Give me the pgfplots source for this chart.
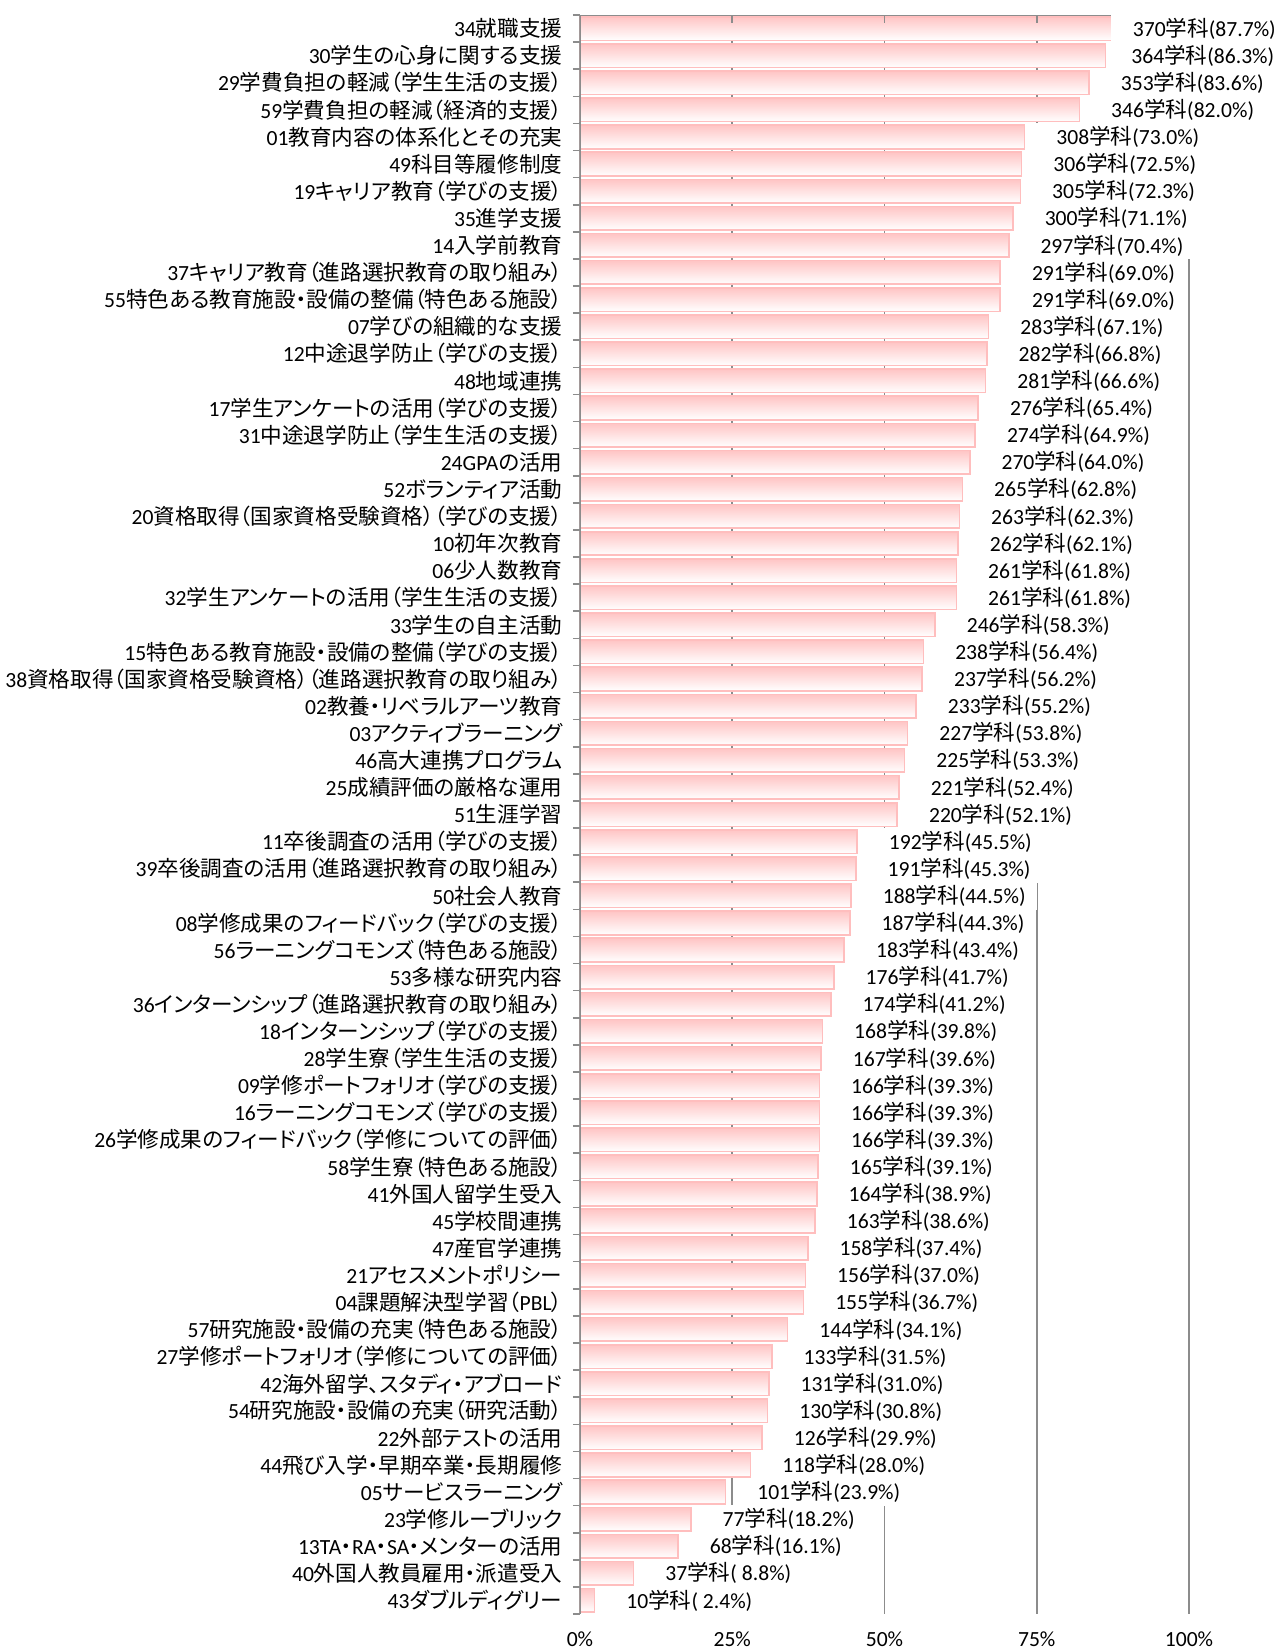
\documentclass[border=0pt]{standalone}
\usepackage{fontspec}
\usepackage{pgfplots}
\pgfplotsset{compat=1.18}
\setmainfont{Carlito}
\newfontfamily\lat{Carlito}
\newfontfamily\cjk[RawFeature=+palt]{Noto Sans CJK JP}
% switch to the CJK font for Japanese characters automatically
\XeTeXinterchartokenstate=1
\newXeTeXintercharclass\CJKcls
\newcount\cc
\def\setcls#1#2{\cc=#1\relax\loop\XeTeXcharclass\cc=\CJKcls\relax\ifnum\cc<#2\advance\cc by 1\repeat}
\setcls{"3000}{"30FF}
\setcls{"4E00}{"9FFF}
\setcls{"FF00}{"FFEF}
\XeTeXinterchartoks 0 \CJKcls = {\cjk}
\XeTeXinterchartoks 4095 \CJKcls = {\cjk}
\XeTeXinterchartoks \CJKcls 0 = {\lat}
\XeTeXinterchartoks \CJKcls 4095 = {\lat}

\definecolor{barpink}{RGB}{255,197,197}
\definecolor{barline}{RGB}{255,190,190}
\definecolor{axgray}{RGB}{140,140,140}

\pgfplotsset{barstyle/.style={draw=barline, line width=0.8pt,
    top color=barpink, bottom color=white}}
% one bar per plot, so that each bar gets its own gradient
\newcommand\onebar[4][]{\addplot[barstyle,#1] coordinates {(#2,#3) [#4]};}

\begin{document}
\begin{tikzpicture}
\begin{axis}[
    scale only axis,
    width=304.5pt, height=799.5pt,
    xmin=0, xmax=100,
    ymin=-0.5, ymax=58.5,
    y dir=reverse,
    xbar, bar width=0.87, bar shift=0pt,
    axis line style={draw=none},
    xtick={0,25,50,75,100},
    xticklabels={0\%,25\%,50\%,75\%,100\%},
    xticklabel style={font=\fontsize{10.8}{12}\selectfont, yshift=-1pt},
    major x tick style={draw=none},
    xmajorgrids,
    major x grid style={axgray, line width=0.8pt},
    ytick={0,...,58},
    major y tick style={draw=none},
    minor ytick={-0.5,0.5,...,58.5},
    minor y tick style={axgray, line width=0.8pt},
    minor tick length=3.5pt,
    tick align=outside,
    ytick pos=left,
    yticklabel style={font=\fontsize{10.8}{12}\selectfont, xshift=-1pt},
    yticklabels={
    {34就職支援},
    {30学生の心身に関する支援},
    {29学費負担の軽減（学生生活の支援）},
    {59学費負担の軽減（経済的支援）},
    {01教育内容の体系化とその充実},
    {49科目等履修制度},
    {19キャリア教育（学びの支援）},
    {35進学支援},
    {14入学前教育},
    {37キャリア教育（進路選択教育の取り組み）},
    {55特色ある教育施設・設備の整備（特色ある施設）},
    {07学びの組織的な支援},
    {12中途退学防止（学びの支援）},
    {48地域連携},
    {17学生アンケートの活用（学びの支援）},
    {31中途退学防止（学生生活の支援）},
    {24GPAの活用},
    {52ボランティア活動},
    {20資格取得（国家資格受験資格）（学びの支援）},
    {10初年次教育},
    {06少人数教育},
    {32学生アンケートの活用（学生生活の支援）},
    {33学生の自主活動},
    {15特色ある教育施設・設備の整備（学びの支援）},
    {38資格取得（国家資格受験資格）（進路選択教育の取り組み）},
    {02教養・リベラルアーツ教育},
    {03アクティブラーニング},
    {46高大連携プログラム},
    {25成績評価の厳格な運用},
    {51生涯学習},
    {11卒後調査の活用（学びの支援）},
    {39卒後調査の活用（進路選択教育の取り組み）},
    {50社会人教育},
    {08学修成果のフィードバック（学びの支援）},
    {56ラーニングコモンズ（特色ある施設）},
    {53多様な研究内容},
    {36インターンシップ（進路選択教育の取り組み）},
    {18インターンシップ（学びの支援）},
    {28学生寮（学生生活の支援）},
    {09学修ポートフォリオ（学びの支援）},
    {16ラーニングコモンズ（学びの支援）},
    {26学修成果のフィードバック（学修についての評価）},
    {58学生寮（特色ある施設）},
    {41外国人留学生受入},
    {45学校間連携},
    {47産官学連携},
    {21アセスメントポリシー},
    {04課題解決型学習（PBL）},
    {57研究施設・設備の充実（特色ある施設）},
    {27学修ポートフォリオ（学修についての評価）},
    {42海外留学、スタディ・アブロード},
    {54研究施設・設備の充実（研究活動）},
    {22外部テストの活用},
    {44飛び入学・早期卒業・長期履修},
    {05サービスラーニング},
    {23学修ルーブリック},
    {13TA・RA・SA・メンターの活用},
    {40外国人教員雇用・派遣受入},
    {43ダブルディグリー}
    },
    point meta=explicit symbolic,
    nodes near coords={\hspace*{5.5pt}\pgfplotspointmeta},
    every node near coord/.append style={anchor=west, xshift=4.5pt,
        fill=white, inner xsep=5.5pt, inner ysep=0pt, minimum height=14pt,
        font=\fontsize{10.8}{12}\selectfont},
]
\onebar[every node near coord/.append style={xshift=-6.5pt}]{87.7}{0}{370学科(87.7\%)}
\onebar[every node near coord/.append style={xshift=-3pt}]{86.3}{1}{364学科(86.3\%)}
\onebar{83.6}{2}{353学科(83.6\%)}
\onebar{82.0}{3}{346学科(82.0\%)}
\onebar{73.0}{4}{308学科(73.0\%)}
\onebar{72.5}{5}{306学科(72.5\%)}
\onebar{72.3}{6}{305学科(72.3\%)}
\onebar{71.1}{7}{300学科(71.1\%)}
\onebar{70.4}{8}{297学科(70.4\%)}
\onebar{69.0}{9}{291学科(69.0\%)}
\onebar{69.0}{10}{291学科(69.0\%)}
\onebar{67.1}{11}{283学科(67.1\%)}
\onebar{66.8}{12}{282学科(66.8\%)}
\onebar{66.6}{13}{281学科(66.6\%)}
\onebar{65.4}{14}{276学科(65.4\%)}
\onebar{64.9}{15}{274学科(64.9\%)}
\onebar{64.0}{16}{270学科(64.0\%)}
\onebar{62.8}{17}{265学科(62.8\%)}
\onebar{62.3}{18}{263学科(62.3\%)}
\onebar{62.1}{19}{262学科(62.1\%)}
\onebar{61.8}{20}{261学科(61.8\%)}
\onebar{61.8}{21}{261学科(61.8\%)}
\onebar{58.3}{22}{246学科(58.3\%)}
\onebar{56.4}{23}{238学科(56.4\%)}
\onebar{56.2}{24}{237学科(56.2\%)}
\onebar{55.2}{25}{233学科(55.2\%)}
\onebar{53.8}{26}{227学科(53.8\%)}
\onebar{53.3}{27}{225学科(53.3\%)}
\onebar{52.4}{28}{221学科(52.4\%)}
\onebar{52.1}{29}{220学科(52.1\%)}
\onebar{45.5}{30}{192学科(45.5\%)}
\onebar{45.3}{31}{191学科(45.3\%)}
\onebar{44.5}{32}{188学科(44.5\%)}
\onebar{44.3}{33}{187学科(44.3\%)}
\onebar{43.4}{34}{183学科(43.4\%)}
\onebar{41.7}{35}{176学科(41.7\%)}
\onebar{41.2}{36}{174学科(41.2\%)}
\onebar{39.8}{37}{168学科(39.8\%)}
\onebar{39.6}{38}{167学科(39.6\%)}
\onebar{39.3}{39}{166学科(39.3\%)}
\onebar{39.3}{40}{166学科(39.3\%)}
\onebar{39.3}{41}{166学科(39.3\%)}
\onebar{39.1}{42}{165学科(39.1\%)}
\onebar{38.9}{43}{164学科(38.9\%)}
\onebar{38.6}{44}{163学科(38.6\%)}
\onebar{37.4}{45}{158学科(37.4\%)}
\onebar{37.0}{46}{156学科(37.0\%)}
\onebar{36.7}{47}{155学科(36.7\%)}
\onebar{34.1}{48}{144学科(34.1\%)}
\onebar{31.5}{49}{133学科(31.5\%)}
\onebar{31.0}{50}{131学科(31.0\%)}
\onebar{30.8}{51}{130学科(30.8\%)}
\onebar{29.9}{52}{126学科(29.9\%)}
\onebar{28.0}{53}{118学科(28.0\%)}
\onebar{23.9}{54}{101学科(23.9\%)}
\onebar{18.2}{55}{77学科(18.2\%)}
\onebar{16.1}{56}{68学科(16.1\%)}
\onebar{8.8}{57}{37学科(\ 8.8\%)}
\onebar{2.4}{58}{10学科(\ 2.4\%)}
\draw[axgray, line width=0.8pt] (axis cs:0,-0.5) -- (axis cs:100,-0.5);
\draw[axgray, line width=0.8pt] (axis cs:0,-0.5) -- (axis cs:0,58.5);
\pgfplotsinvokeforeach{25,50,75,100}{
  \draw[axgray, line width=0.8pt] (axis cs:#1,-0.5) -- ++(0,3pt);
}
\end{axis}
\pgfresetboundingbox
\path[use as bounding box] (-290pt,-18pt) rectangle (347pt,807pt);
\end{tikzpicture}
\end{document}
